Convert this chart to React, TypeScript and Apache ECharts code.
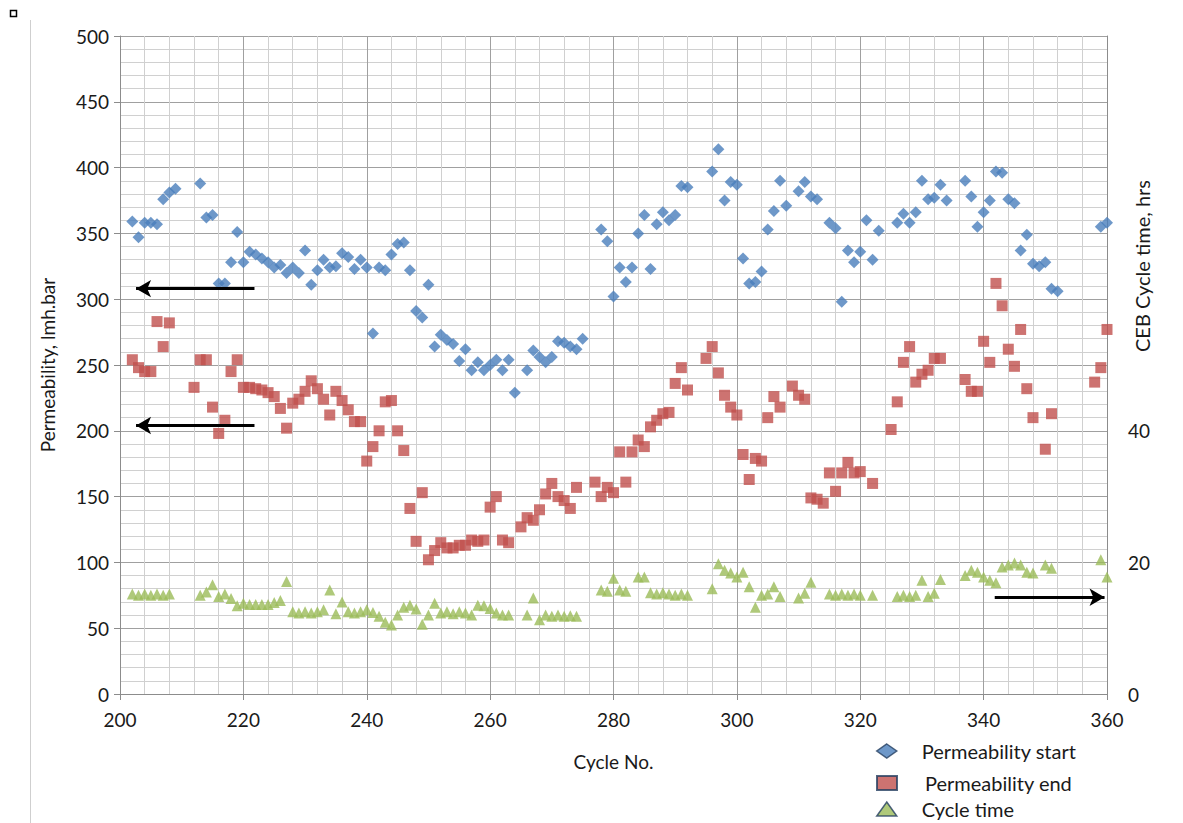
import React, { useEffect, useRef } from "react";
import * as echarts from "echarts";

// ---- Data ----
const startCycles = [
  202, 203, 204, 205, 206, 207, 208, 209,
  213, 214, 215, 216, 217, 218, 219, 220,
  221, 222, 223, 224, 225, 226, 227, 228, 229,
  230, 231, 232, 233, 234, 235, 236, 237, 238, 239, 240,
  241, 242, 243, 244, 245, 246, 247, 248, 249, 250,
  251, 252, 253, 254, 255, 256, 257, 258, 259, 260,
  261, 262, 263, 264, 266, 267, 268, 269, 270,
  271, 272, 273, 274, 275,
  278, 279, 280, 281, 282, 283, 284, 285, 286, 287, 288, 289, 290, 291, 292,
  296, 297, 298, 299, 300, 301, 302, 303, 304, 305, 306, 307, 308,
  310, 311, 312, 313, 315, 316, 317, 318, 319, 320, 321, 322, 323,
  326, 327, 328, 329, 330, 331, 332, 333, 334,
  337, 338, 339, 340, 341, 342, 343, 344, 345, 346, 347, 348, 349, 350, 351, 352,
  359, 360,
];
const startValues = [
  359, 347, 358, 358, 357, 376, 381, 384,
  388, 362, 364, 312, 312, 328, 351, 328,
  336, 334, 331, 328, 324, 326, 320, 324, 320,
  337, 311, 322, 330, 324, 325, 335, 332, 323, 330, 324,
  274, 324, 322, 334, 342, 343, 322, 291, 286, 311,
  264, 273, 269, 266, 253, 262, 246, 252, 246, 250,
  254, 246, 254, 229, 246, 261, 256, 252, 256,
  268, 267, 264, 262, 270,
  353, 344, 302, 324, 313, 324, 350, 364, 323, 357, 366, 360, 364, 386, 385,
  397, 414, 375, 389, 387, 331, 312, 313, 321, 353, 367, 390, 371,
  382, 389, 378, 376, 358, 354, 298, 337, 328, 336, 360, 330, 352,
  358, 365, 358, 366, 390, 376, 377, 387, 375,
  390, 378, 355, 366, 375, 397, 396, 376, 373, 337, 349, 327, 325, 328, 308, 306,
  355, 358,
];

const endCycles = [
  202, 203, 204, 205, 206, 207, 208,
  212, 213, 214, 215, 216, 217, 218, 219, 220,
  221, 222, 223, 224, 225, 226, 227, 228, 229, 230,
  231, 232, 233, 234, 235, 236, 237, 238, 239, 240,
  241, 242, 243, 244, 245, 246, 247, 248, 249, 250,
  251, 252, 253, 254, 255, 256, 257, 258, 259, 260,
  261, 262, 263, 265, 266, 267, 268, 269, 270,
  271, 272, 273, 274,
  277, 278, 279, 280, 281, 282, 283, 284, 285, 286, 287, 288, 289, 290, 291, 292,
  295, 296, 297, 298, 299, 300, 301, 302, 303, 304, 305, 306, 307,
  309, 310, 311, 312, 313, 314, 315, 316, 317, 318, 319, 320, 322,
  325, 326, 327, 328, 329, 330, 331, 332, 333,
  337, 338, 339, 340, 341, 342, 343, 344, 345, 346, 347, 348, 350, 351,
  358, 359, 360,
];
const endValues = [
  254, 248, 245, 245, 283, 264, 282,
  233, 254, 254, 218, 198, 208, 245, 254, 233,
  233, 232, 231, 229, 226, 217, 202, 221, 224, 230,
  238, 232, 224, 212, 230, 223, 216, 207, 207, 177,
  188, 200, 222, 223, 200, 185, 141, 116, 153, 102,
  109, 115, 111, 111, 113, 113, 117, 116, 117, 142,
  150, 117, 115, 127, 134, 132, 140, 152, 160,
  150, 147, 141, 157,
  161, 150, 157, 153, 184, 161, 184, 193, 188, 203, 208, 213, 214, 236, 248, 231,
  255, 264, 244, 227, 218, 212, 182, 163, 179, 177, 210, 226, 218,
  234, 227, 224, 149, 148, 145, 168, 154, 168, 176, 168, 169, 160,
  201, 222, 252, 264, 237, 243, 246, 255, 255,
  239, 230, 230, 268, 252, 312, 295, 262, 249, 277, 232, 210, 186, 213,
  237, 248, 277,
];

const timeCycles = [
  202, 203, 204, 205, 206, 207, 208,
  213, 214, 215, 216, 217, 218, 219, 220, 221, 222, 223, 224, 225, 226, 227,
  228, 229, 230, 231, 232, 233, 234, 235, 236, 237, 238, 239, 240, 241,
  242, 243, 244, 245, 246, 247, 248, 249, 250, 251, 252, 253, 254, 255, 256, 257,
  258, 259, 260, 261, 262, 263, 266, 267, 268, 269, 270, 271, 272, 273, 274,
  278, 279, 280, 281, 282, 284, 285, 286, 287, 288, 289, 290, 291, 292,
  296, 297, 298, 299, 300, 301, 302, 303, 304, 305, 306, 307,
  310, 311, 312, 315, 316, 317, 318, 319, 320, 322,
  326, 327, 328, 329, 330, 331, 332, 333,
  337, 338, 339, 340, 341, 342, 343, 344, 345, 346, 347, 348, 350, 351,
  359, 360,
];
const timeValues = [
  15.2, 15.0, 15.2, 15.0, 15.2, 15.0, 15.2,
  15.0, 15.5, 16.6, 14.8, 15.2, 14.5, 13.4, 13.8, 13.6, 13.6, 13.6, 13.6, 13.9, 14.2, 17.1,
  12.5, 12.3, 12.5, 12.3, 12.5, 12.8, 15.8, 12.2, 14.0, 12.5, 12.3, 12.5, 12.8, 12.4,
  11.8, 10.9, 10.5, 12.0, 13.2, 13.5, 12.9, 10.6, 12.0, 13.8, 12.3, 12.5, 12.2, 12.5, 12.3, 12.0,
  13.5, 13.4, 13.0, 12.3, 12.0, 12.0, 12.0, 14.6, 11.3, 12.0, 11.8, 12.0, 11.8, 11.9, 11.8,
  15.8, 15.6, 17.6, 15.8, 15.6, 17.8, 17.8, 15.4, 15.2, 15.4, 15.2, 15.0, 15.2, 15.0,
  16.0, 19.8, 18.8, 18.4, 17.8, 18.5, 16.3, 13.2, 15.0, 15.2, 16.3, 14.8,
  14.6, 15.3, 17.0, 15.2, 15.0, 15.2, 15.0, 15.2, 15.0, 15.0,
  14.8, 15.0, 14.8, 15.0, 17.3, 14.8, 15.3, 17.4,
  18.0, 18.8, 18.5, 17.8, 17.3, 16.9, 19.3, 19.6, 19.9, 19.6, 18.5, 18.4, 19.6, 19.1,
  20.4, 17.8,
];

const seriesNames = ["Permeability start", "Permeability end", "Cycle time"];
const xTitle = "Cycle No.";
const leftTitle = "Permeability, lmh.bar";
const rightTitle = "CEB Cycle time, hrs";

const zip = (xs: number[], ys: number[]) => xs.map((x, i) => [x, ys[i]]);

const FONT = "Lato, 'Open Sans', sans-serif";
const BLUE = "#4a7ebb";
const RED = "#c0504d";
const GREEN = "#9bbb59";
const BORDER = "#243f60";

export default function App() {
  const ref = useRef<HTMLDivElement>(null);

  useEffect(() => {
    if (!ref.current) return;
    const chart = echarts.init(ref.current, null, { renderer: "svg" });

    const legendBase = {
      orient: "vertical" as const,
      itemWidth: 20,
      itemHeight: 14,
      textStyle: { fontFamily: FONT, fontSize: 20, color: "#1a1a1a" },
      selectedMode: false,
    };

    const arrowLine = { color: "#000", width: 3, type: "solid" as const };

    chart.setOption({
      animation: false,
      backgroundColor: "#ffffff",
      textStyle: { fontFamily: FONT },
      grid: { left: 120, top: 36, right: 76, bottom: 129, containLabel: false },
      legend: [
        {
          ...legendBase,
          left: 871,
          top: 736,
          textStyle: { ...legendBase.textStyle, padding: [0, 0, 0, 20] },
          data: [
            {
              name: seriesNames[0],
              icon: "diamond",
              itemStyle: { color: BLUE, borderColor: BORDER, borderWidth: 1.5 },
            },
          ],
        },
        {
          ...legendBase,
          left: 871,
          top: 768,
          textStyle: { ...legendBase.textStyle, padding: [0, 0, 0, 23] },
          data: [
            {
              name: seriesNames[1],
              icon: "rect",
              itemStyle: { color: RED, borderColor: BORDER, borderWidth: 2 },
            },
          ],
        },
        {
          ...legendBase,
          left: 871,
          top: 794,
          textStyle: { ...legendBase.textStyle, padding: [0, 0, 0, 20] },
          data: [
            {
              name: seriesNames[2],
              icon: "triangle",
              itemStyle: { color: GREEN, borderColor: BORDER, borderWidth: 1.5 },
            },
          ],
        },
      ],
      xAxis: {
        type: "value",
        min: 200,
        max: 360,
        interval: 20,
        name: xTitle,
        nameLocation: "middle",
        nameGap: 58,
        nameTextStyle: { fontFamily: FONT, fontSize: 19, color: "#1a1a1a" },
        axisLine: { show: true, onZero: false, lineStyle: { color: "#8c8c8c", width: 1 } },
        axisTick: { show: true, length: 6, lineStyle: { color: "#8c8c8c" } },
        axisLabel: { fontFamily: FONT, fontSize: 19, color: "#1a1a1a", margin: 16 },
        splitLine: { show: true, lineStyle: { color: "#a0a0a0", width: 1 } },
        minorTick: { show: false, splitNumber: 5 },
        minorSplitLine: { show: true, lineStyle: { color: "#d0d0d0", width: 1 } },
      },
      yAxis: [
        {
          type: "value",
          min: 0,
          max: 500,
          interval: 50,
          name: leftTitle,
          nameLocation: "middle",
          nameGap: 63,
          nameTextStyle: { fontFamily: FONT, fontSize: 19, color: "#1a1a1a" },
          axisLine: { show: true, lineStyle: { color: "#8c8c8c", width: 1 } },
          axisTick: { show: true, length: 6, lineStyle: { color: "#8c8c8c" } },
          axisLabel: { fontFamily: FONT, fontSize: 19, color: "#1a1a1a", margin: 11 },
          splitLine: { show: true, lineStyle: { color: "#a0a0a0", width: 1 } },
          minorTick: { show: false, splitNumber: 5 },
          minorSplitLine: { show: true, lineStyle: { color: "#d0d0d0", width: 1 } },
        },
        {
          type: "value",
          min: 0,
          max: 100,
          interval: 20,
          position: "right",
          axisLine: { show: true, lineStyle: { color: "#8c8c8c", width: 1 } },
          axisTick: { show: false },
          axisLabel: {
            fontFamily: FONT,
            fontSize: 19,
            color: "#1a1a1a",
            margin: 21,
            formatter: (v: number) => (v <= 40 ? String(v) : ""),
          },
          splitLine: { show: false },
        },
      ],
      graphic: [
        {
          type: "text",
          x: 1142,
          y: 266,
          rotation: Math.PI / 2,
          style: {
            text: rightTitle,
            fontFamily: FONT,
            fontSize: 20,
            fill: "#1a1a1a",
            textAlign: "center",
            textVerticalAlign: "middle",
          },
        },
        {
          type: "line",
          shape: { x1: 30.5, y1: 20, x2: 30.5, y2: 823 },
          style: { stroke: "#cfcfcf", lineWidth: 1 },
        },
        {
          type: "rect",
          shape: { x: 10.5, y: 10.5, width: 6, height: 6 },
          style: { fill: "#fff", stroke: "#000", lineWidth: 1.5 },
        },
      ],
      series: [
        {
          name: seriesNames[0],
          type: "scatter",
          symbol: "diamond",
          symbolSize: 12,
          itemStyle: { color: BLUE },
          data: zip(startCycles, startValues),
          z: 3,
          markLine: {
            silent: true,
            symbol: ["none", "arrow"],
            symbolSize: [13, 15],
            label: { show: false },
            lineStyle: arrowLine,
            data: [
              [{ coord: [221.8, 308] }, { coord: [202.6, 308] }],
              [{ coord: [221.8, 204] }, { coord: [202.6, 204] }],
              [{ coord: [341.8, 73.5] }, { coord: [359.6, 73.5] }],
            ],
          },
        },
        {
          name: seriesNames[1],
          type: "scatter",
          symbol: "rect",
          symbolSize: 11,
          itemStyle: { color: RED },
          data: zip(endCycles, endValues),
          z: 3,
        },
        {
          name: seriesNames[2],
          type: "scatter",
          symbol: "triangle",
          symbolSize: 11,
          yAxisIndex: 1,
          itemStyle: { color: GREEN },
          data: zip(timeCycles, timeValues),
          z: 3,
        },
      ],
    });

    return () => chart.dispose();
  }, []);

  return (
    <div
      ref={ref}
      style={{ position: "absolute", left: 0, top: 0, width: 1183, height: 823 }}
    />
  );
}
